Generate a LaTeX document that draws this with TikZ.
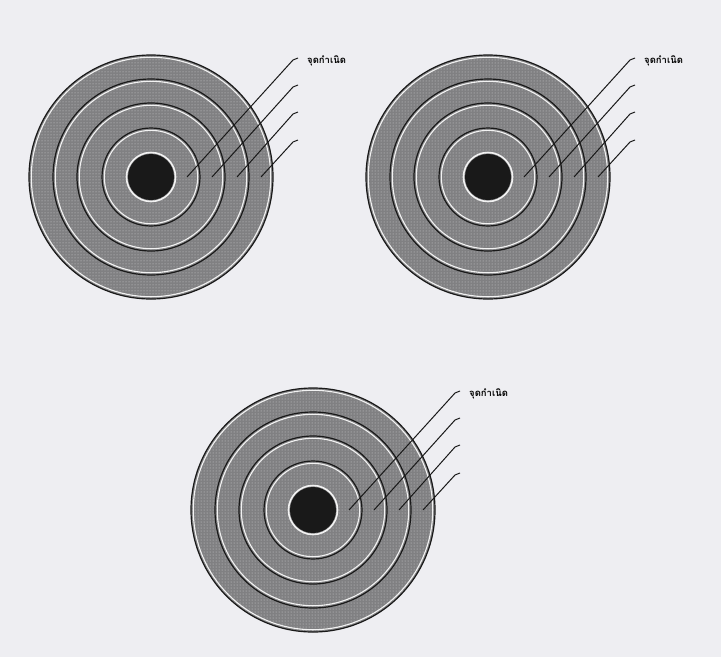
\documentclass[tikz,border=0pt]{standalone}
\usepackage{fontspec}
\newfontfamily\thaifont[Script=Thai]{Loma}
\usetikzlibrary{patterns}
\definecolor{pagebg}{RGB}{238,238,242}
\definecolor{ringgray}{RGB}{128,128,130}
\definecolor{diskblack}{RGB}{25,25,25}
\tikzset{
  ringline/.style={draw=black!90, line width=1.2pt},
  halo/.style={draw=white!90!gray, line width=1.1pt},
  leader/.style={draw=black!90, line width=1pt},
  lbl/.style={font=\thaifont\bfseries\fontsize{9.5}{10}\selectfont, inner sep=0pt, anchor=west},
  target/.pic={
    \fill[ringgray] (0,0) circle[radius=122];
    \fill[pattern=dots, pattern color=white!65!gray] (0,0) circle[radius=122];
    \foreach \r in {122,98,74,49}{
      \draw[halo] (0,0) circle[radius=\r-2.3];
      \draw[ringline] (0,0) circle[radius=\r];
    }
    \draw[white!90!gray, line width=1.6pt] (0,0) circle[radius=24.5];
    \fill[diskblack] (0,0) circle[radius=23];
    \coordinate (-a1) at (36,0);  \coordinate (-b1) at (142,-117); \coordinate (-c1) at (147,-119);
    \coordinate (-a2) at (61,0);  \coordinate (-b2) at (142,-90);  \coordinate (-c2) at (147,-92);
    \coordinate (-a3) at (86,0);  \coordinate (-b3) at (142,-63);  \coordinate (-c3) at (147,-65);
    \coordinate (-a4) at (110,0); \coordinate (-b4) at (142,-35);  \coordinate (-c4) at (147,-37);
    \foreach \i in {1,2,3,4}{
      \draw[leader, line join=round] (-a\i) -- (-b\i) -- (-c\i);
    }
    \node[lbl] (-label) at (156,-116) {จุดกำเนิด};
  }
}
\begin{document}
\begin{tikzpicture}[x=1pt,y=-1pt]
  \fill[pagebg] (0,0) rectangle (721,657);
  \useasboundingbox (0,0) rectangle (721,657);
  \pic (t1) at (151,177) {target};
  \pic (t2) at (488,177) {target};
  \pic (t3) at (313,510) {target};
\end{tikzpicture}
\end{document}
